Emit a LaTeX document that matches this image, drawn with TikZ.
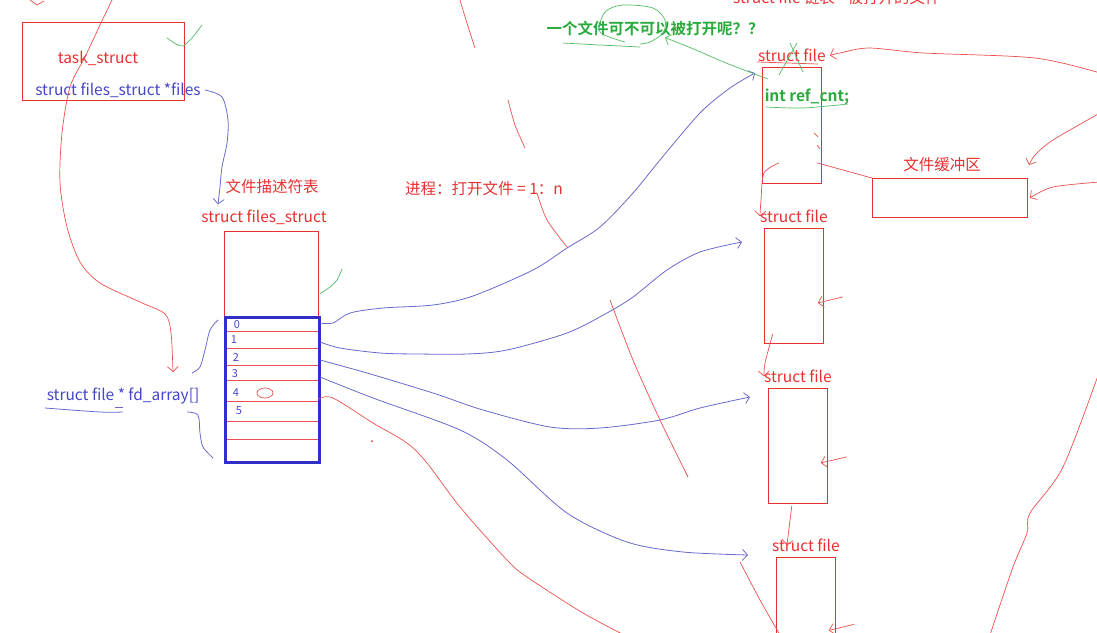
\documentclass[tikz,border=0pt]{standalone}
\usepackage{fontspec}
\setmainfont{Noto Sans CJK SC}[BoldFont={Noto Sans CJK SC Bold}]
\usetikzlibrary{arrows.meta, positioning}

\definecolor{inkred}{RGB}{232,48,48}
\definecolor{inkblue}{RGB}{70,70,200}
\definecolor{penblue}{RGB}{105,105,205}
\definecolor{boxblue}{RGB}{48,48,200}
\definecolor{inkgreen}{RGB}{40,170,60}

\begin{document}
\begin{tikzpicture}[
    x=1pt, y=-1pt,
    >={Straight Barb[length=5pt, width=11pt]},
    every node/.style={font=\fontsize{15.5}{18}\selectfont, inner sep=0pt},
    redlbl/.style={text=inkred},
    bluelbl/.style={text=inkblue},
    greenlbl/.style={text=inkgreen, font=\fontsize{15.5}{18}\selectfont\bfseries},
    digit/.style={text=inkblue, font=\fontsize{11}{12}\selectfont},
    redbox/.style={draw=inkred, line width=0.8pt, anchor=north west},
    redpen/.style={draw=inkred!85, line width=0.7pt},
    bluepen/.style={draw=penblue, line width=0.8pt},
    greenpen/.style={draw=inkgreen!80, line width=0.7pt}
]

\clip (0,0) rectangle (1097,632);

% Define boxes
\node[redbox, minimum width=162pt, minimum height=78pt] (task) at (22,22) {};
\node[redbox, minimum width=94pt, minimum height=85pt] (filesbox) at (224,231) {};

\node[redbox, minimum width=59pt, minimum height=116pt] (file1) at (762,67) {};
\node[redbox, minimum width=59pt, minimum height=115pt] (file2) at (764,228) {};
\node[redbox, minimum width=59pt, minimum height=115pt] (file3) at (768,388) {};
\node[redbox, minimum width=59pt, minimum height=120pt] (file4) at (776,557) {};
\node[redbox, minimum width=155pt, minimum height=39pt] (buffer) at (872,178) {};

% fd_array rows
\foreach \y in {331,348,365,380,401,421,439}
    \draw[redpen] (224,\y) -- (318,\y);
\node[draw=boxblue, line width=3pt, anchor=north west,
      minimum width=94pt, minimum height=145pt] (fdarray) at (224,316) {};

\foreach \d/\x/\y in {0/237/325, 1/234/340, 2/236/358, 3/235/374, 4/236/393, 5/239/411}
    \node[digit] (d\d) at (\x,\y) {\d};
\draw[redpen] (265,393) ellipse [x radius=8, y radius=5];

% Labels
\node[redlbl] (tasklbl) at (98,58) {task\_struct};
\node[bluelbl] (filesptr) at (118,90) {struct files\_struct *files};
\node[redlbl] (fdtbl) at (272,187) {文件描述符表};
\node[redlbl] (fslbl) at (264,217) {struct files\_struct};
\node[bluelbl] (fdlbl) at (123,396) {struct file * fd\_array[]};
\node[redlbl] (ratio) at (484,189) {进程：打开文件 = 1：n};
\node[greenlbl] (question) at (655,29) {一个文件可不可以被打开呢？？};
\node[greenlbl] (refcnt) at (807,97) {int ref\_cnt;};
\node[redlbl] (buflbl) at (942,165) {文件缓冲区};
\node[redlbl, anchor=base west] (listlbl) at (733,3) {struct file 链表 - 被打开的文件};

\node[redlbl, above=5pt of file1] (file1lbl) {struct file};
\node[redlbl, above=5pt of file2] (file2lbl) {struct file};
\node[redlbl, above=5pt of file3] (file3lbl) {struct file};
\node[redlbl, above=5pt of file4] (file4lbl) {struct file};

% Ends of the pointers
\coordinate (fd0) at (320,323);
\coordinate (fd1) at (320,342);
\coordinate (fd2) at (320,360);
\coordinate (fd3) at (320,377);
\coordinate (fd4) at (318,399);
\coordinate (file1in) at ([xshift=-7pt, yshift=-6pt]file1.north west);
\coordinate (file2in) at ([xshift=-22pt, yshift=-14pt]file2.north west);
\coordinate (file3in) at ([xshift=-18pt, yshift=-9pt]file3.north west);
\coordinate (file4in) at ([xshift=-28pt, yshift=2pt]file4.north west);
\coordinate (ptrend) at ([xshift=-46pt, yshift=5pt]fslbl.north);
\coordinate (fdpoint) at (173,372);

% fd_array -> struct file
\draw[bluepen, ->] plot[smooth] coordinates {(fd0) (333,323) (350,313) (383,308) (433,305)
    (473,296) (533,270) (567,248) (600,227) (633,193) (660,160) (700,113) (730,88) (file1in)};
\draw[bluepen, ->] plot[smooth] coordinates {(fd1) (340,348) (380,353) (417,354) (467,354)
    (507,350) (567,333) (607,313) (633,297) (667,270) (700,252) (file2in)};
\draw[bluepen, ->] plot[smooth] coordinates {(fd2) (367,373) (433,393) (483,410) (550,427)
    (600,428) (660,420) (700,408) (file3in)};
\draw[bluepen, ->] plot[smooth] coordinates {(fd3) (373,398) (460,430) (507,460) (567,513)
    (627,542) (683,552) (file4in)};
\draw[redpen] plot[smooth] coordinates {(fd4) (333,398) (373,423) (407,443) (427,463)
    (460,507) (507,560) (527,577) (583,613) (630,638)};

% task_struct -> files_struct
\draw[bluepen, ->] plot[smooth] coordinates {([xshift=4pt]filesptr.east) (222,97) (228,120)
    (227,143) (222,167) (220,187) (ptrend)};
\draw[redpen, ->] plot[smooth] coordinates {(113,-2) (100,25) (85,57) (70,87) (62,133)
    (60,183) (67,227) (80,262) (100,283) (140,302) (165,314) (171,333) (fdpoint)};

% brackets round fd_array
\draw[bluepen] plot[smooth] coordinates {(218,320) (210,330) (205,350) (200,367) (192,373)};
\draw[bluepen] plot[smooth] coordinates {(187,412) (198,415) (200,433) (203,447) (213,458)};
\draw[bluepen] plot[smooth] coordinates {(45,408) (100,412) (123,412)};
\draw[bluepen] (115,407) -- (123,407);

% struct file list
\draw[redpen, ->] plot[smooth] coordinates {(779,163) (764,173) (761,200) (file2lbl.west)};
\draw[redpen, ->] plot[smooth] coordinates {([xshift=-51pt, yshift=10pt]file2.south east)
    (765,363) (file3lbl.west)};
\draw[redpen, ->] ([xshift=-36pt, yshift=-2pt]file3.south east) -- ([xshift=-19pt]file4lbl.center);
\draw[redpen, ->] ([xshift=19pt, yshift=-11pt]file2.east) -- ([xshift=-6pt, yshift=-17pt]file2.east);
\draw[redpen, ->] ([xshift=19pt, yshift=-11pt]file3.east) -- ([xshift=-7pt, yshift=-17pt]file3.east);
\draw[redpen, ->] ([xshift=18pt, yshift=-7pt]file4.east) -- ([xshift=-7pt, yshift=-13pt]file4.east);
\draw[redpen] (757,62) -- (818,64);
\draw[redpen] (814,133) -- (818,137) (817,145) -- (820,149);

% buffer and the strokes from the right
\draw[redpen] ([xshift=-5pt, yshift=21pt]file1.south east) -- (buffer.north west);
\draw[redpen, ->] plot[smooth] coordinates {(1100,73) (1035,58) (924,53) (869,48) (840,53)
    ([xshift=4pt]file1lbl.east)};
\draw[redpen, ->] plot[smooth] coordinates {(1100,113) (1053,140) (1035,155) (1029,165)};
\draw[redpen, ->] plot[smooth] coordinates {(1100,182) (1053,187) ([xshift=2pt]buffer.east)};

% loose red strokes
\draw[redpen] (30,0) -- (37,5) -- (44,1);
\draw[redpen] plot[smooth] coordinates {(460,0) (466,20) (475,48)};
\draw[redpen] plot[smooth] coordinates {(508,100) (515,125) (525,148)};
\draw[redpen] plot[smooth] coordinates {(537,193) (547,220) (567,247)};
\draw[redpen] plot[smooth] coordinates {(610,300) (633,360) (660,420) (688,477)};
\draw[redpen] plot[smooth] coordinates {(740,562) (760,600) (780,635)};
\draw[redpen] plot[smooth] coordinates {(1100,370) (1063,467) (1030,513) (1027,533)
    (1013,567) (990,635)};
\fill[inkred] (372,441) circle (1pt);

% green marks
\draw[greenpen] plot[smooth] coordinates {(167,38) (176,44) (183,46) (192,38) (202,25)};
\draw[greenpen] plot[smooth] coordinates {([xshift=1pt, yshift=23pt]filesbox.south east)
    (330,287) (337,280) (342,269)};
\draw[greenpen] plot[smooth] coordinates {(625,42) (600,32) (605,12) (623,5) (653,8)
    (665,20) (663,33) (650,42) (640,44)};
\draw[greenpen] plot[smooth] coordinates {(563,43) (600,45) (640,47)};
\draw[greenpen, ->] plot[smooth] coordinates {([xshift=6pt, yshift=-12pt]file1.north west)
    (726,63) (696,50) ([xshift=10pt, yshift=-1pt]question.south)};
\draw[greenpen] plot[smooth] coordinates {(766,107) (803,108) (848,104)};
\draw[greenpen] (779,75) -- (797,43) (790,43) -- (803,72);

\end{tikzpicture}
\end{document}
